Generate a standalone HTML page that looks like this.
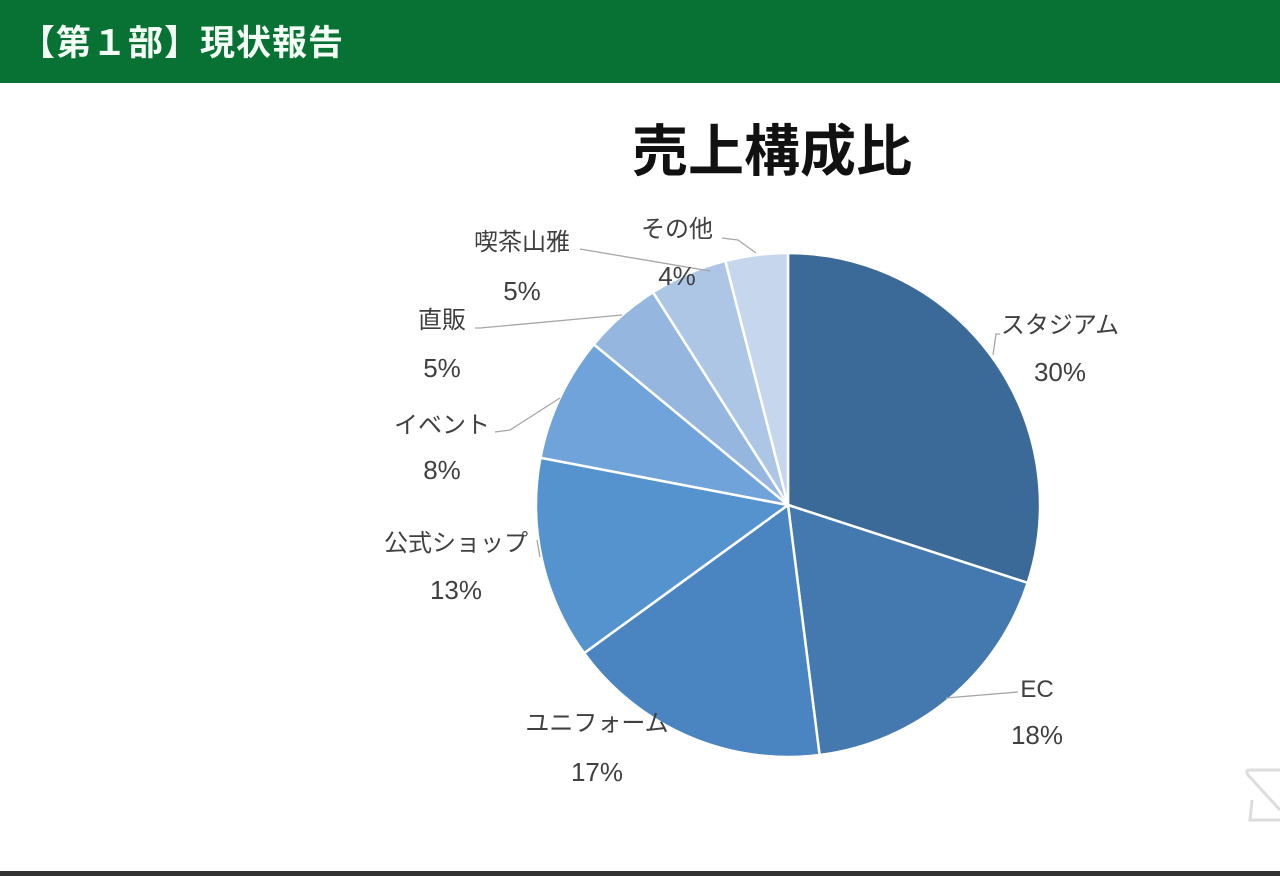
<!DOCTYPE html>
<html><head><meta charset="utf-8">
<style>
html,body{margin:0;padding:0;width:1280px;height:876px;overflow:hidden;background:#fff;font-family:"Liberation Sans","Noto Sans CJK JP",sans-serif;}
#hdr{position:absolute;left:0;top:0;width:1280px;height:83px;background:#077234;}
#hdr span{position:absolute;left:20px;top:15px;font-size:35px;font-weight:bold;color:#f4fff6;letter-spacing:1px;}
#bottom{position:absolute;left:0;top:871px;width:1280px;height:5px;background:#333;}
svg{position:absolute;left:0;top:0;}
</style></head><body>
<div id="hdr"><span>【第１部】現状報告</span></div>
<svg id="chart" width="1280" height="876">
<text x="772" y="171" text-anchor="middle" font-size="56" font-weight="bold" fill="#111" font-family="'Liberation Sans','Noto Sans CJK JP',sans-serif">売上構成比</text>
<g id="slices"></g><g id="labels"></g>
<path d="M1250 770 L1280 770 M1250 770 Q1245 770 1248 775 L1280 810 M1252 800 L1250 820 L1280 820" stroke="#ddd" stroke-width="3" fill="none"/>
</svg>
<div id="bottom"></div>
<script>
const categories=["スタジアム","EC","ユニフォーム","公式ショップ","イベント","直販","喫茶山雅","その他"];
const values=[30,18,17,13,8,5,5,4];
const pctLabels=["30%","18%","17%","13%","8%","5%","5%","4%"];
const colors=["#3b6a99","#4479b0","#4a85c1","#5593cf","#70a3d9","#94b6df","#aec6e6","#c6d7ed"];
const cx=788,cy=505,r=252;
const labelPos=[[1060,333,1060,381],[1037,697,1037,744],[597,731,597,781],[456,551,456,599],[442,433,442,479],[442,328,442,377],[522,250,522,300],[677,237,677,285]];
const leaders=["M993 355 L996 334 L1000 334","M946 698 L1018 692","M662 720 L662 720","M540 557 L537 540","M560 398 L510 430 L495 432","M622 315 L480 328 L475 328","M710 271 L580 249","M756 253 L738 240 L722 238"];
const ns="http://www.w3.org/2000/svg";
const total=values.reduce((a,b)=>a+b,0);
function pt(frac){const a=frac*2*Math.PI;return [cx+r*Math.sin(a),cy-r*Math.cos(a)];}
let acc=0;
const gs=document.getElementById('slices'),gl=document.getElementById('labels');
values.forEach((v,i)=>{
 const s=pt(acc/total),e=pt((acc+v)/total);
 const large=v/total>0.5?1:0;
 const p=document.createElementNS(ns,'path');
 p.setAttribute('d',`M${cx} ${cy} L${s[0]} ${s[1]} A${r} ${r} 0 ${large} 1 ${e[0]} ${e[1]} Z`);
 p.setAttribute('fill',colors[i]);p.setAttribute('stroke','#fff');p.setAttribute('stroke-width','2.5');
 
 
 gs.appendChild(p);
 acc+=v;
 const l=document.createElementNS(ns,'path');
 l.setAttribute('d',leaders[i]);l.setAttribute('stroke','#a6a6a6');l.setAttribute('fill','none');l.setAttribute('stroke-width','1.3');
 
 
 gl.appendChild(l);
 const lp=labelPos[i];
 [[categories[i],lp[0],lp[1]],[pctLabels[i],lp[2],lp[3]]].forEach((t,k)=>{
  const tx=document.createElementNS(ns,'text');
  tx.setAttribute('x',t[1]);tx.setAttribute('y',t[2]);tx.setAttribute('text-anchor','middle');
  tx.setAttribute('font-size',k?'26':'24');tx.setAttribute('fill','#404040');
  tx.setAttribute('font-family',"'Liberation Sans','Noto Sans CJK JP',sans-serif");
  tx.textContent=t[0];
  
  
  gl.appendChild(tx);
 });
});
</script>
</body></html>
